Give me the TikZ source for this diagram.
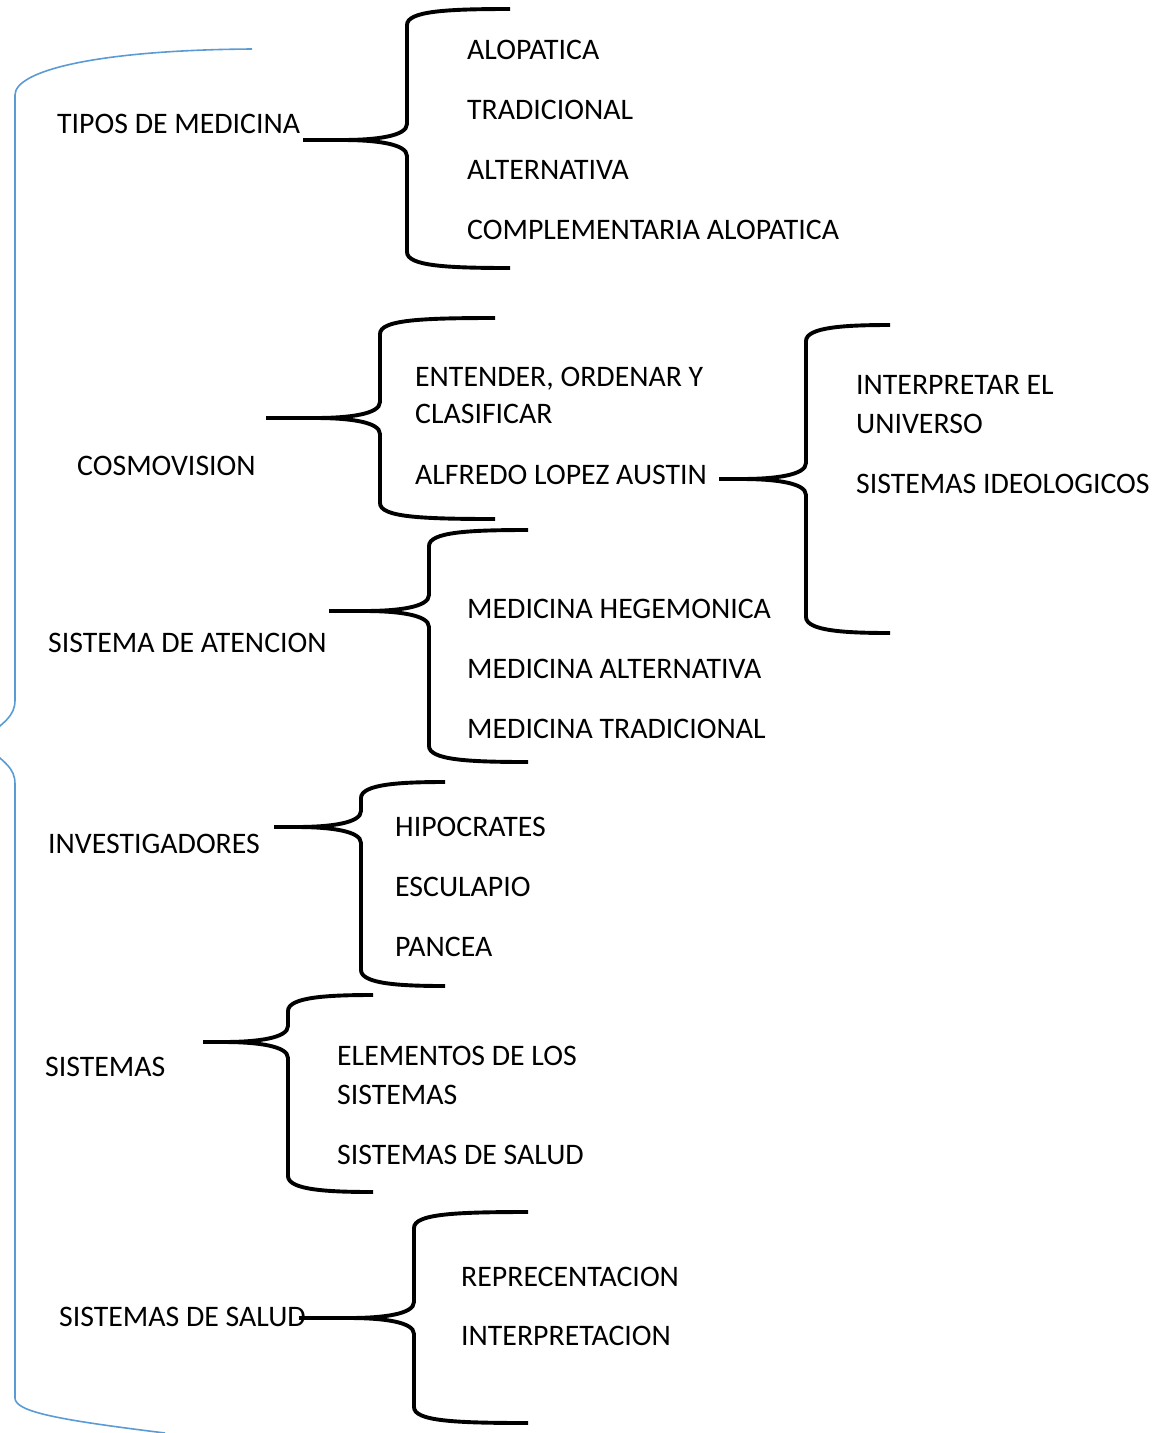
\documentclass[tikz,border=0pt]{standalone}
\usepackage{fontspec}
\setmainfont{Carlito}
\definecolor{bluebrace}{RGB}{91,155,213}
\newcommand{\mybrace}[6]{% tip x, mid y, vertical x, top y, bottom y, right x
  \draw[bracestyle] (#6,#4) .. controls (#3+40,#4) and (#3,#4+2) .. (#3,#4+16)
    -- (#3,#2-16) .. controls (#3,#2-4) and (#3-30,#2) .. (#3-65,#2) -- (#1,#2);
  \draw[bracestyle] (#6,#5) .. controls (#3+40,#5) and (#3,#5-2) .. (#3,#5-16)
    -- (#3,#2+16) .. controls (#3,#2+4) and (#3-30,#2) .. (#3-65,#2);
}
\begin{document}
\begin{tikzpicture}[x=1pt,y=-1pt,
  bracestyle/.style={line width=3.9pt,black},
  lbl/.style={anchor=base west,inner sep=0pt,font=\fontsize{29.8}{36}\selectfont}]
\useasboundingbox (0,0) rectangle (1153,1433);
\begin{scope}
\clip (0,0) rectangle (1153,1433);
\draw[bluebrace,line width=1.6pt] (252,49) .. controls (100,50) and (15,70) .. (15,95)
  -- (15,700) .. controls (15,716) and (5,722) .. (-20,742);
\draw[bluebrace,line width=1.6pt] (-20,742) .. controls (5,762) and (15,768) .. (15,784)
  -- (15,1398) .. controls (15,1412) and (60,1420) .. (165,1433);
\end{scope}

% braces
\mybrace{303}{140}{407}{9}{268}{510}
\mybrace{266}{418}{380}{318}{519}{495}
\mybrace{719}{479}{806}{325}{633}{890}
\mybrace{329}{611}{429}{530}{762}{528}
\mybrace{274}{827}{361}{782}{986}{445}
\mybrace{203}{1042}{288}{995}{1192}{373}
\mybrace{299}{1318}{414}{1212}{1423}{528}

% labels
\node[lbl] (tipos) at (57,133) {TIPOS DE MEDICINA};
\node[lbl] (alop) at (467,59) {ALOPATICA};
\node[lbl] (trad) at (467,119) {TRADICIONAL};
\node[lbl] (alt) at (467,179) {ALTERNATIVA};
\node[lbl] (comp) at (467,239) {COMPLEMENTARIA ALOPATICA};

\node[lbl] (cosmo) at (77,475) {COSMOVISION};
\node[lbl] (ent1) at (415,386) {ENTENDER, ORDENAR Y};
\node[lbl] (ent2) at (415,423) {CLASIFICAR};
\node[lbl] (alfredo) at (415,484) {ALFREDO LOPEZ AUSTIN};
\node[lbl] (interp1) at (856,394) {INTERPRETAR EL};
\node[lbl] (interp2) at (856,433) {UNIVERSO};
\node[lbl] (ideol) at (856,493) {SISTEMAS IDEOLOGICOS};

\node[lbl] (atencion) at (48,652) {SISTEMA DE ATENCION};
\node[lbl] (heg) at (467,618) {MEDICINA HEGEMONICA};
\node[lbl] (malt) at (467,678) {MEDICINA ALTERNATIVA};
\node[lbl] (mtrad) at (467,738) {MEDICINA TRADICIONAL};

\node[lbl] (invest) at (48,853) {INVESTIGADORES};
\node[lbl] (hipo) at (395,836) {HIPOCRATES};
\node[lbl] (escu) at (395,896) {ESCULAPIO};
\node[lbl] (pancea) at (395,956) {PANCEA};

\node[lbl] (sistemas) at (45,1076) {SISTEMAS};
\node[lbl] (elem1) at (337,1065) {ELEMENTOS DE LOS};
\node[lbl] (elem2) at (337,1104) {SISTEMAS};
\node[lbl] (ssalud1) at (337,1164) {SISTEMAS DE SALUD};

\node[lbl] (ssalud) at (59,1326) {SISTEMAS DE SALUD};
\node[lbl] (repre) at (461,1286) {REPRECENTACION};
\node[lbl] (interpr) at (461,1345) {INTERPRETACION};
\end{tikzpicture}
\end{document}
